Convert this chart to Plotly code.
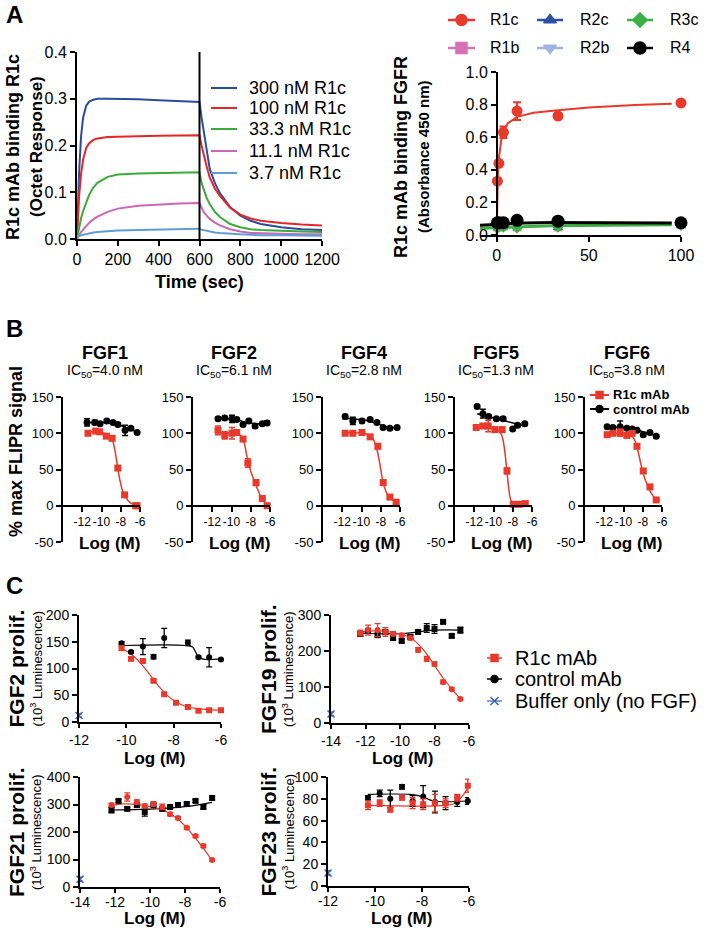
import plotly.graph_objects as go

W, H = 704, 931
FONT = "Liberation Sans, Arial, Helvetica, sans-serif"

# ======================= DATA =======================
# ---- Panel A (left): Octet binding kinetics ----
octet_time = [0, 10, 20, 30, 45, 60, 80, 100, 150, 200, 300, 400, 500, 600,
              610, 620, 635, 650, 675, 700, 750, 800, 850, 900, 1000, 1100, 1200]
octet_300nM = [0, 0.14, 0.22, 0.26, 0.285, 0.294, 0.298, 0.300, 0.300, 0.300, 0.299, 0.297, 0.295, 0.293,
               0.26, 0.23, 0.19, 0.15, 0.12, 0.098, 0.068, 0.05, 0.039, 0.032, 0.025, 0.021, 0.019]
octet_100nM = [0, 0.09, 0.14, 0.17, 0.195, 0.205, 0.212, 0.215, 0.218, 0.219, 0.220, 0.221, 0.222, 0.222,
               0.2, 0.18, 0.155, 0.132, 0.108, 0.092, 0.067, 0.052, 0.044, 0.039, 0.034, 0.031, 0.029]
octet_33nM = [0, 0.025, 0.045, 0.06, 0.08, 0.095, 0.11, 0.12, 0.133, 0.138, 0.140, 0.141, 0.142, 0.143,
              0.12, 0.105, 0.088, 0.075, 0.058, 0.047, 0.032, 0.025, 0.021, 0.019, 0.017, 0.016, 0.015]
octet_11nM = [0, 0.008, 0.015, 0.02, 0.028, 0.035, 0.042, 0.048, 0.058, 0.065, 0.071, 0.074, 0.076, 0.077,
              0.066, 0.058, 0.05, 0.043, 0.035, 0.029, 0.021, 0.016, 0.013, 0.012, 0.011, 0.010, 0.010]
octet_3nM = [0.006, 0.007, 0.009, 0.010, 0.012, 0.013, 0.014, 0.015, 0.017, 0.018, 0.019, 0.020, 0.021, 0.022,
             0.02, 0.019, 0.017, 0.016, 0.014, 0.013, 0.011, 0.010, 0.009, 0.008, 0.008, 0.007, 0.007]
octet_labels = ["300 nM R1c", "100 nM R1c", "33.3 nM R1c", "11.1 nM R1c", "3.7 nM R1c"]
octet_switch_time = 600

# ---- Panel A (right): ELISA binding to FGFRs ----
elisa_conc = [0.41, 1.23, 3.7, 11.1, 33.3, 100]
elisa_R1c = [0.33, 0.44, 0.63, 0.76, 0.73, 0.81]
elisa_R1c_err = [0.0, 0.0, 0.035, 0.055, 0.0, 0.0]
elisa_R2c = [0.05, 0.05, 0.05, 0.055, 0.045, 0.06]
elisa_R3c = [0.045, 0.05, 0.05, 0.045, 0.05, 0.06]
elisa_R1b = [0.05, 0.05, 0.055, 0.05, 0.05, 0.065]
elisa_R2b = [0.045, 0.045, 0.05, 0.05, 0.045, 0.06]
elisa_R4 = [0.075, 0.075, 0.075, 0.09, 0.085, 0.075]
elisa_R1c_fit_x = [0, 0.2, 0.41, 0.8, 1.23, 2.5, 3.7, 6, 11.1, 20, 33.3, 50, 75, 95]
elisa_R1c_fit_y = [0, 0.2, 0.33, 0.41, 0.47, 0.58, 0.635, 0.685, 0.725, 0.75, 0.765, 0.782, 0.797, 0.805]
elisa_R3c_fit_x = [-9, 0, 10, 30, 60, 95]
elisa_R3c_fit_y = [0.042, 0.045, 0.05, 0.056, 0.06, 0.063]
elisa_R4_fit_x = [-9, 0, 5, 15, 30, 60, 95]
elisa_R4_fit_y = [0.06, 0.065, 0.07, 0.074, 0.076, 0.075, 0.073]
elisa_names = ["R1c", "R2c", "R3c", "R1b", "R2b", "R4"]

# ---- Panel B: FLIPR ----
b_titles = ["FGF1", "FGF2", "FGF4", "FGF5", "FGF6"]
b_ic50 = ["4.0", "6.1", "2.8", "1.3", "3.8"]
b_red_x = [[-11.4, -10.6, -10.2, -9.5, -8.9, -8.3, -7.6, -6.45, -6.3],
           [-11.4, -10.7, -9.95, -9.45, -8.8, -8.3, -7.45, -6.8, -6.3],
           [-11.7, -10.9, -9.95, -9.1, -8.3, -7.75, -7.05, -6.4],
           [-11.8, -11.1, -10.55, -9.85, -9.1, -8.6, -7.95, -7.35, -6.7],
           [-11.7, -11.1, -10.35, -9.65, -9.1, -8.6, -7.95, -7.25, -6.6]]
b_red_y = [[100, 103, 102, 96, 93, 52, 15, 0, 0],
           [104, 97, 100, 101, 92, 59, 32, 10, 0],
           [100, 100, 101, 95, 82, 32, 12, 5],
           [108, 110, 110, 105, 105, 48, 2, 2, 3],
           [98, 100, 101, 97, 100, 82, 48, 26, 8]]
b_red_err = [[2, 3, 2, 3, 2, 2, 2, 1, 1],
             [6, 5, 8, 3, 3, 6, 4, 2, 1],
             [2, 2, 3, 3, 3, 2, 2, 1],
             [3, 3, 8, 3, 3, 4, 1, 1, 1],
             [2, 3, 5, 3, 2, 2, 2, 2, 1]]
b_blk_x = [[-11.5, -10.7, -10.15, -9.45, -8.8, -8.3, -7.55, -6.95, -6.3],
           [-11.4, -10.7, -9.95, -9.45, -8.8, -8.2, -7.55, -6.8, -6.3],
           [-11.7, -10.9, -9.95, -9.1, -8.4, -7.75, -7.05, -6.3],
           [-11.7, -11.1, -10.5, -9.7, -9.0, -8.0, -7.5, -6.75],
           [-11.7, -11.1, -10.35, -9.65, -9.1, -8.6, -7.95, -7.25, -6.6]]
b_blk_y = [[115, 115, 113, 117, 115, 112, 104, 107, 101],
           [120, 121, 120, 119, 112, 117, 110, 113, 114],
           [123, 117, 117, 119, 115, 108, 107, 108],
           [137, 127, 123, 120, 120, 106, 111, 113],
           [109, 108, 109, 107, 106, 104, 98, 101, 96]]
b_blk_err = [[5, 3, 2, 2, 2, 2, 7, 2, 2],
             [2, 2, 5, 2, 2, 2, 2, 2, 3],
             [3, 5, 2, 2, 2, 2, 2, 2],
             [2, 6, 2, 2, 2, 2, 2, 2],
             [2, 2, 8, 2, 2, 2, 2, 2, 2]]
b_red_fit_x = [[-11.4, -10, -9.5, -9, -8.8, -8.6, -8.4, -8.2, -8, -7.8, -7.5, -7, -6.3],
               [-11.4, -10, -9.5, -9, -8.7, -8.4, -8.1, -7.8, -7.5, -7.2, -6.9, -6.6, -6.3],
               [-11.7, -10, -9.5, -9, -8.7, -8.4, -8.1, -7.8, -7.5, -7.2, -6.8, -6.4],
               [-11.8, -10, -9.5, -9.2, -9.0, -8.8, -8.6, -8.4, -8.2, -7.9, -7.3, -6.7],
               [-11.7, -10, -9.5, -9, -8.7, -8.4, -8.1, -7.8, -7.5, -7.2, -6.9, -6.6]]
b_red_fit_y = [[102, 101, 99, 94, 88, 76, 60, 43, 30, 20, 12, 4, 0],
               [101, 100, 99, 96, 88, 68, 52, 40, 30, 20, 11, 5, 1],
               [101, 100, 99, 96, 90, 78, 58, 35, 21, 13, 8, 5],
               [108, 106, 104, 99, 90, 72, 47, 22, 8, 3, 2, 3],
               [100, 99, 98, 94, 86, 70, 52, 38, 28, 19, 13, 8]]
b_blk_fit_x = [[-11.5, -9.5, -8.5, -7.5, -6.3],
               [-11.4, -9.5, -8.5, -7.5, -6.3],
               [-11.7, -9.5, -8.5, -7.5, -6.3],
               [-11.7, -6.75],
               [-11.7, -9.5, -8.5, -7.5, -6.6]]
b_blk_fit_y = [[115, 115, 113, 108, 102],
               [121, 119, 115, 113, 113],
               [121, 118, 114, 109, 107],
               [127, 110],
               [109, 107, 104, 100, 97]]

# ---- Panel C: proliferation ----
c_titles = ["FGF2 prolif.", "FGF19 prolif.", "FGF21 prolif.", "FGF23 prolif."]
c_red_x = [[-10.2, -9.8, -9.3, -8.85, -8.4, -7.9, -7.4, -6.95, -6.5, -6.0],
           [-12.3, -11.85, -11.3, -10.85, -10.4, -9.9, -9.4, -8.95, -8.45, -8.0, -7.5, -7.0, -6.5],
           [-12.2, -11.3, -10.75, -10.3, -9.8, -9.3, -8.85, -8.4, -7.9, -7.4, -6.95, -6.45],
           [-10.3, -9.8, -9.35, -8.85, -8.4, -7.95, -7.45, -7.0, -6.5, -6.05]]
c_red_y = [[138, 118, 114, 77, 52, 36, 28, 21, 22, 22],
           [250, 258, 258, 253, 248, 244, 236, 203, 178, 164, 114, 94, 67],
           [298, 327, 309, 295, 302, 291, 265, 251, 215, 185, 149, 98],
           [74, 76, 70, 81, 76, 75, 76, 76, 81, 92]]
c_red_err = [[4, 3, 3, 2, 2, 2, 2, 2, 2, 2],
             [8, 14, 18, 12, 6, 5, 5, 6, 7, 6, 5, 4, 3],
             [6, 15, 8, 6, 8, 10, 6, 5, 5, 5, 6, 5],
             [4, 3, 2, 2, 5, 5, 8, 4, 3, 6]]
c_blk_x = [[-10.2, -9.8, -9.3, -8.85, -8.4, -7.4, -6.95, -6.5, -6.0],
           [-12.3, -11.85, -11.3, -10.85, -10.4, -9.9, -9.4, -8.95, -8.45, -8.0, -7.5, -7.0, -6.5],
           [-12.2, -11.8, -11.3, -10.75, -10.3, -9.8, -9.3, -8.85, -8.4, -7.9, -7.4, -6.95, -6.45],
           [-10.3, -9.8, -9.35, -8.85, -8.4, -7.95, -7.45, -7.0, -6.5, -6.05]]
c_blk_y = [[147, 131, 141, 122, 157, 148, 121, 121, 117],
           [247, 256, 244, 253, 236, 228, 239, 253, 264, 261, 281, 242, 258],
           [280, 313, 284, 298, 273, 298, 284, 291, 298, 302, 313, 291, 324],
           [81, 85, 80, 91, 78, 82, 77, 76, 77, 78]]
c_blk_err = [[3, 2, 15, 4, 18, 5, 2, 18, 2],
             [6, 5, 5, 5, 5, 5, 5, 5, 12, 12, 5, 5, 8],
             [10, 5, 5, 8, 15, 5, 5, 5, 8, 5, 5, 8, 8],
             [2, 3, 8, 2, 5, 10, 10, 6, 4, 3]]
c_red_fit_x = [[-10.2, -9.8, -9.4, -9, -8.6, -8.2, -7.8, -7.4, -7, -6.5, -6],
               [-12.3, -11.5, -10.5, -9.5, -9, -8.5, -8, -7.5, -7, -6.5],
               [-12.3, -11.5, -10.5, -9.5, -9, -8.5, -8, -7.5, -7, -6.45],
               [-10.3, -7.0, -6.6, -6.3, -6.05]]
c_red_fit_y = [[138, 127, 110, 88, 65, 47, 35, 28, 25, 23, 22],
               [252, 256, 252, 240, 222, 195, 160, 125, 95, 67],
               [295, 302, 298, 285, 272, 252, 222, 185, 145, 96],
               [74, 74, 76, 82, 90]]
c_blk_fit_x = [[-10.2, -7.5, -7.2, -7.0, -6.8, -6.0],
               [-12.3, -10, -8, -6.5],
               [-12.3, -10, -8, -6.45],
               [-10.3, -8.5, -8.0, -7.5, -6.05]]
c_blk_fit_y = [[143, 143, 140, 125, 118, 118],
               [250, 248, 258, 258],
               [280, 283, 292, 308],
               [84, 84, 82, 78, 78]]
c_buf_x = [[-12], [-14], [-14], [-12]]
c_buf_y = [[12], [25], [28], [12]]
c_buf_err = [[3], [5], [8], [2]]
c_ranges_y = [[0, 200], [0, 300], [0, 400], [0, 100]]
c_dtick_y = [50, 100, 100, 20]
c_ranges_x = [[-12, -6], [-14, -6], [-14, -6], [-12, -6]]
legend_c = ["R1c mAb", "control mAb", "Buffer only (no FGF)"]
legend_b = ["R1c mAb", "control mAb"]

# ======================= STYLE / LAYOUT =======================
RED = "#e8392b"
BLACK = "#000000"
BUF = "#3a5fb5"
octet_colors = ["#2b4c9e", "#e52628", "#3aaa3a", "#cc66b5", "#5e9ed8"]
elisa_colors = {"R1c": "#e8392b", "R2c": "#2f4fa0", "R3c": "#3cb043",
                "R1b": "#d572b9", "R2b": "#9fb3e3", "R4": "#000000"}
elisa_symbols = {"R1c": "circle", "R2c": "triangle-up", "R3c": "diamond",
                 "R1b": "square", "R2b": "triangle-down", "R4": "circle"}


def xd(a, b):
    return [a / W, b / W]


def yd(top, bottom):
    return [1 - bottom / H, 1 - top / H]


def ax(size, **kw):
    d = dict(showline=True, linecolor="black", linewidth=2, ticks="outside", ticklen=5,
             tickwidth=2, tickcolor="black", showgrid=False, zeroline=False, fixedrange=True,
             automargin=False, tickangle=0,
             tickfont=dict(family=FONT, size=size, color="black"))
    d.update(kw)
    return d


fig = go.Figure()
layout = dict(width=W, height=H, margin=dict(l=0, r=0, t=0, b=0, pad=0, autoexpand=False),
              plot_bgcolor="rgba(0,0,0,0)", paper_bgcolor="white", showlegend=False,
              hovermode=False)
annotations = []
shapes = []


def txt(x, y, text, size, bold=False, xanchor="center", angle=0):
    annotations.append(dict(x=x / W, y=1 - y / H, xref="paper", yref="paper",
                            text=("<b>%s</b>" % text) if bold else text,
                            showarrow=False, xanchor=xanchor, yanchor="middle",
                            textangle=angle,
                            font=dict(family=FONT, size=size, color="black")))


# ---------- Panel A left ----------
layout["xaxis"] = ax(16, domain=xd(77, 322), range=[0, 1200], dtick=200, anchor="y")
layout["yaxis"] = ax(16, domain=yd(52, 239), range=[0, 0.4], dtick=0.1, tickformat=".1f", anchor="x")
for ys, col in zip([octet_300nM, octet_100nM, octet_33nM, octet_11nM, octet_3nM], octet_colors):
    fig.add_trace(go.Scatter(x=octet_time, y=ys, mode="lines", line=dict(color=col, width=2),
                             xaxis="x", yaxis="y", hoverinfo="skip"))
shapes.append(dict(type="line", xref="x", yref="y", x0=octet_switch_time, x1=octet_switch_time,
                   y0=0, y1=0.4, line=dict(color="black", width=2)))
txt(13, 147, "R1c mAb binding R1c", 18, True, angle=-90)
txt(36, 147, "(Octet Response)", 17, True, angle=-90)
txt(199, 282, "Time (sec)", 18, True)

# ---------- Panel A right ----------
layout["xaxis2"] = ax(16, domain=xd(480, 681), range=[-9, 100], tickvals=[0, 50, 100], anchor="y2")
layout["yaxis2"] = ax(16, domain=yd(72, 235), range=[0, 1.0], dtick=0.2, tickformat=".1f",
                      anchor="free", position=497 / W)
fig.add_trace(go.Scatter(x=elisa_R3c_fit_x, y=elisa_R3c_fit_y, mode="lines",
                         line=dict(color=elisa_colors["R3c"], width=3), xaxis="x2", yaxis="y2"))
fig.add_trace(go.Scatter(x=elisa_R4_fit_x, y=elisa_R4_fit_y, mode="lines",
                         line=dict(color=BLACK, width=3), xaxis="x2", yaxis="y2"))
for nm, vals in [("R2b", elisa_R2b), ("R1b", elisa_R1b), ("R2c", elisa_R2c), ("R3c", elisa_R3c)]:
    fig.add_trace(go.Scatter(x=elisa_conc, y=vals, mode="markers",
                             marker=dict(color=elisa_colors[nm], symbol=elisa_symbols[nm], size=9),
                             xaxis="x2", yaxis="y2", cliponaxis=False))
fig.add_trace(go.Scatter(x=elisa_conc, y=elisa_R4, mode="markers",
                         marker=dict(color=BLACK, symbol="circle", size=13),
                         xaxis="x2", yaxis="y2", cliponaxis=False))
fig.add_trace(go.Scatter(x=elisa_R1c_fit_x, y=elisa_R1c_fit_y, mode="lines",
                         line=dict(color=RED, width=2), xaxis="x2", yaxis="y2"))
fig.add_trace(go.Scatter(x=elisa_conc, y=elisa_R1c, mode="markers",
                         marker=dict(color=RED, symbol="circle", size=11),
                         error_y=dict(type="data", array=elisa_R1c_err, color=RED, thickness=2, width=4),
                         xaxis="x2", yaxis="y2", cliponaxis=False))
txt(401, 157, "R1c mAb binding FGFR", 18, True, angle=-90)
txt(424, 157, "(Absorbance 450 nm)", 15, True, angle=-90)

# ---------- legend-key overlay axis ----------
layout["xaxis12"] = dict(domain=[0, 1], range=[0, W], visible=False, fixedrange=True,
                         automargin=False, anchor="y12")
layout["yaxis12"] = dict(domain=[0, 1], range=[H, 0], visible=False, fixedrange=True,
                         automargin=False, anchor="x12")


def key(x0, x1, y, color, lw, symbol=None, msize=0):
    fig.add_trace(go.Scatter(x=[x0, x1], y=[y, y], mode="lines", line=dict(color=color, width=lw),
                             xaxis="x12", yaxis="y12", hoverinfo="skip"))
    if symbol:
        fig.add_trace(go.Scatter(x=[(x0 + x1) / 2], y=[y], mode="markers",
                                 marker=dict(color=color, symbol=symbol, size=msize,
                                             line=dict(color=color, width=1.5)),
                                 xaxis="x12", yaxis="y12", hoverinfo="skip"))


# Panel A left legend
for i, (lab, col) in enumerate(zip(octet_labels, octet_colors)):
    yy = [88, 108, 129, 151, 173][i]
    key(211, 237, yy, col, 2)
    txt(247, yy, lab, 18, xanchor="left")

# Panel A right legend (2 rows x 3 columns)
a2_cols = [(448, 475, 488), (537, 563, 578), (627, 653, 668)]
for i, nm in enumerate(elisa_names):
    c0, c1, tx = a2_cols[i % 3]
    yy = [20, 48][i // 3]
    key(c0, c1, yy, elisa_colors[nm], 2.5, elisa_symbols[nm], 11 if nm != "R4" else 12)
    txt(tx, yy, nm, 16, xanchor="left")

# ---------- Panel B ----------
b_left = [63, 193, 323, 455, 585]
b_top, b_bot = 397, 542
for i in range(5):
    n = 3 + i
    xa, ya = "x%d" % n, "y%d" % n
    ydom = yd(b_top, b_bot)
    pos0 = ydom[0] + (0 - (-50)) / 200 * (ydom[1] - ydom[0])
    layout["xaxis%d" % n] = ax(12, domain=xd(b_left[i], b_left[i] + 77), range=[-14, -6],
                               tickvals=[-12, -10, -8, -6], ticktext=["-12", "-10", "-8", "-6"],
                               anchor="free", position=pos0)
    layout["yaxis%d" % n] = ax(13, domain=ydom, range=[-50, 150], tickvals=[-50, 0, 50, 100, 150],
                               ticktext=["-50", "0", "50", "100", "150"], anchor=xa)
    fig.add_trace(go.Scatter(x=b_blk_fit_x[i], y=b_blk_fit_y[i], mode="lines",
                             line=dict(color=BLACK, width=1.5), xaxis=xa, yaxis=ya))
    fig.add_trace(go.Scatter(x=b_blk_x[i], y=b_blk_y[i], mode="markers",
                             marker=dict(color=BLACK, symbol="circle", size=7),
                             error_y=dict(type="data", array=b_blk_err[i], color=BLACK, thickness=1.5, width=3),
                             xaxis=xa, yaxis=ya, cliponaxis=False))
    fig.add_trace(go.Scatter(x=b_red_fit_x[i], y=b_red_fit_y[i], mode="lines", line_shape="spline",
                             line=dict(color=RED, width=1.5), xaxis=xa, yaxis=ya))
    fig.add_trace(go.Scatter(x=b_red_x[i], y=b_red_y[i], mode="markers",
                             marker=dict(color=RED, symbol="square", size=7),
                             error_y=dict(type="data", array=b_red_err[i], color=RED, thickness=1.5, width=3),
                             xaxis=xa, yaxis=ya, cliponaxis=False))
    cx = b_left[i] + 38.5
    txt(cx + 3, 353, b_titles[i], 18, True)
    txt(cx + 3, 371, "IC<sub>50</sub>=%s nM" % b_ic50[i], 14)
    txt(cx + 8, 543, "Log (M)", 17, True)
txt(16, 452, "% max FLIPR signal", 18, True, angle=-90)
# legend in FGF6 panel
key(590, 609, 395, RED, 2, "square", 7)
txt(611, 395, legend_b[0], 13, True, xanchor="left")
key(590, 609, 409, BLACK, 2, "circle", 7)
txt(611, 409, legend_b[1], 13, True, xanchor="left")

# ---------- Panel C ----------
c_dom = [((79, 221), (615, 722)), ((331, 469), (615, 723)),
         ((80, 220), (777, 887)), ((328, 469), (777, 886))]
c_red_sym = ["square", "circle", "circle", "square"]
c_blk_sym = ["circle", "square", "square", "circle"]
c_title_x = [(16, 36), (268, 288), (16, 36), (268, 288)]
c_log_pos = [(154, 758), (402, 758), (154, 918), (401, 918)]
c_standoff = [0, 0, -3, -3]
for i in range(4):
    n = 8 + i
    xa, ya = "x%d" % n, "y%d" % n
    (xa0, xa1), (yt, yb) = c_dom[i]
    tv = list(range(int(c_ranges_x[i][0]), -5, 2))
    layout["xaxis%d" % n] = ax(14, domain=xd(xa0, xa1), range=c_ranges_x[i], tickvals=tv,
                               ticktext=[str(v) for v in tv], anchor=ya, ticklen=4,
                               ticklabelstandoff=c_standoff[i])
    layout["yaxis%d" % n] = ax(14, domain=yd(yt, yb), range=c_ranges_y[i], dtick=c_dtick_y[i], anchor=xa)
    fig.add_trace(go.Scatter(x=c_blk_fit_x[i], y=c_blk_fit_y[i], mode="lines", line_shape="spline",
                             line=dict(color=BLACK, width=1.2), xaxis=xa, yaxis=ya))
    fig.add_trace(go.Scatter(x=c_red_fit_x[i], y=c_red_fit_y[i], mode="lines", line_shape="spline",
                             line=dict(color=RED, width=1.2), xaxis=xa, yaxis=ya))
    fig.add_trace(go.Scatter(x=c_blk_x[i], y=c_blk_y[i], mode="markers",
                             marker=dict(color=BLACK, symbol=c_blk_sym[i], size=6),
                             error_y=dict(type="data", array=c_blk_err[i], color=BLACK, thickness=1.3, width=3),
                             xaxis=xa, yaxis=ya, cliponaxis=False))
    fig.add_trace(go.Scatter(x=c_red_x[i], y=c_red_y[i], mode="markers",
                             marker=dict(color=RED, symbol=c_red_sym[i], size=6),
                             error_y=dict(type="data", array=c_red_err[i], color=RED, thickness=1.3, width=3),
                             xaxis=xa, yaxis=ya, cliponaxis=False))
    fig.add_trace(go.Scatter(x=c_buf_x[i], y=c_buf_y[i], mode="markers",
                             marker=dict(color=BUF, symbol="x-thin", size=7, line=dict(color=BUF, width=1.5)),
                             error_y=dict(type="data", array=c_buf_err[i], color=BUF, thickness=1.3, width=3),
                             xaxis=xa, yaxis=ya, cliponaxis=False))
    ymid = (yt + yb) / 2
    txt(c_title_x[i][0], ymid, c_titles[i], 21, True, angle=-90)
    txt(c_title_x[i][1], ymid, "(10<sup>3</sup> Luminescence)", 13, angle=-90)
    txt(c_log_pos[i][0], c_log_pos[i][1], "Log (M)", 17, True)

# Panel C legend
key(487, 502, 658, RED, 1.5, "square", 7)
txt(513, 658, legend_c[0], 20, xanchor="left")
key(487, 502, 679, BLACK, 1.5, "circle", 7)
txt(513, 679, legend_c[1], 20, xanchor="left")
key(487, 502, 701, BUF, 1.2, "x-thin", 8)
txt(513, 701, legend_c[2], 20, xanchor="left")

# Panel letters
txt(4, 15, "A", 24, True, xanchor="left")
txt(4, 329, "B", 24, True, xanchor="left")
txt(4, 585, "C", 24, True, xanchor="left")

layout["annotations"] = annotations
layout["shapes"] = shapes
fig.update_layout(**layout)
fig.write_html("out.html", config={"displayModeBar": False, "staticPlot": True},
               post_script="document.body.style.margin='0px';document.body.style.overflow='hidden';")
